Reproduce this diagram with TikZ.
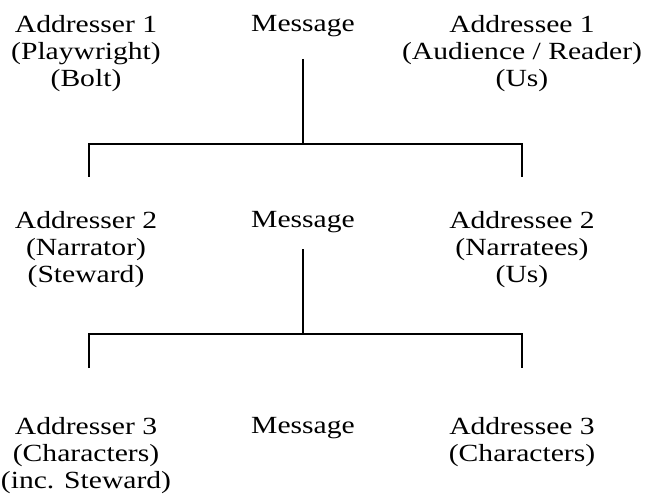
\documentclass[tikz,border=0pt]{standalone}
\usepackage{fontspec}
\setmainfont[FakeStretch=1.2]{Liberation Serif}
\usepackage{tikz}
\usetikzlibrary{positioning,calc}

\begin{document}
\begin{tikzpicture}[
    x=0.75pt, y=-0.75pt,
    lvl/.style={inner sep=0pt, anchor=north, align=center,
                font=\fontsize{18.5}{20.25}\selectfont},
    conn/.style={line width=1.1pt, draw=black}
]
\useasboundingbox (0,0) rectangle (645,495);

% Top level: playwright to audience
\node[lvl] (adr1) at (86,15) {Addresser 1\\(Playwright)\\(Bolt)};
\node[lvl] (msg1) at (303,15) {Message};
\node[lvl] (ade1) at (522,15) {Addressee 1\\(Audience / Reader)\\(Us)};

% Middle level: narrator to narratees
\node[lvl] (adr2) at (86,211) {Addresser 2\\(Narrator)\\(Steward)};
\node[lvl] (msg2) at (303,211) {Message};
\node[lvl] (ade2) at (522,211) {Addressee 2\\(Narratees)\\(Us)};

% Bottom level: characters
\node[lvl] (adr3) at (86,417) {Addresser 3\\(Characters)\\(inc. Steward)};
\node[lvl] (msg3) at (303,417) {Message};
\node[lvl] (ade3) at (522,417) {Addressee 3\\(Characters)};

% Branch points
\coordinate (top1) at (303,59);
\coordinate (join1) at (303,144);
\coordinate (left1) at (89,177);
\coordinate (right1) at (522,177);
\coordinate (top2) at (303,249);
\coordinate (join2) at (303,334);
\coordinate (left2) at (89,368);
\coordinate (right2) at (522,368);

\draw[conn] (top1) -- (join1);
\draw[conn] (left1) |- (join1) -| (right1);
\draw[conn] (top2) -- (join2);
\draw[conn] (left2) |- (join2) -| (right2);

\end{tikzpicture}
\end{document}
